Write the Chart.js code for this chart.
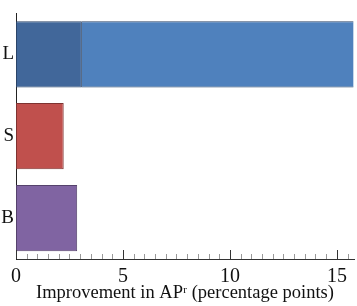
<!DOCTYPE html>
<html>
<head>
<meta charset="utf-8">
<script src="https://cdn.jsdelivr.net/npm/chart.js@4/dist/chart.umd.min.js"></script>
<style>
  html, body { margin: 0; padding: 0; background: #fff; }
  #wrap { width: 357px; height: 306px; position: relative; }
</style>
</head>
<body>
<div id="wrap"><canvas id="chart"></canvas></div>
<script>
// Data
const categories = ["L", "S", "B"];
const baseValues = [3.08, 2.23, 2.86];   // first segment of each bar
const extraValues = [12.7, null, null];  // stacked extension on L
const xTickLabels = [0, 5, 10, 15];

const baseColors = ["#41679a", "#c0504d", "#8064a2"];
const baseBorders = ["#2b4468", "#7e3331", "#55426c"];

// draws inward tick marks on the x axis (minor every 0.5, major every 5)
const inwardTicks = {
  id: "inwardTicks",
  afterDraw(chart) {
    const ctx = chart.ctx;
    const xs = chart.scales.x;
    const bottom = chart.chartArea.bottom;
    ctx.save();
    ctx.lineWidth = 1;
    xs.ticks.forEach((t) => {
      const px = Math.round(xs.getPixelForValue(t.value)) + 0.5;
      const major = xTickLabels.includes(t.value);
      ctx.strokeStyle = major ? "#333" : "#999";
      ctx.beginPath();
      ctx.moveTo(px, bottom);
      ctx.lineTo(px, bottom - (major ? 9 : 5));
      ctx.stroke();
    });
    ctx.restore();
  },
};

new Chart(document.getElementById("chart"), {
  type: "bar",
  data: {
    labels: categories,
    datasets: [
      {
        data: baseValues,
        backgroundColor: baseColors,
        borderColor: baseBorders,
        borderWidth: 1,
        borderSkipped: false,
      },
      {
        data: extraValues,
        backgroundColor: "#4f81bd",
        borderColor: "#2b4468",
        borderWidth: { top: 1, bottom: 1, left: 0, right: 0 },
        borderSkipped: false,
      },
    ],
  },
  plugins: [inwardTicks],
  options: {
    indexAxis: "y",
    responsive: true,
    maintainAspectRatio: false,
    animation: false,
    layout: { padding: { top: 3, right: 3, left: 0, bottom: 0 } },
    datasets: {
      bar: { barPercentage: 0.81, categoryPercentage: 1 },
    },
    plugins: {
      legend: { display: false },
      tooltip: { enabled: false },
    },
    scales: {
      x: {
        stacked: true,
        min: 0,
        max: 15.8,
        grid: { display: false, drawTicks: false },
        border: { display: true, color: "#333", width: 1 },
        ticks: {
          stepSize: 0.5,
          includeBounds: false,
          autoSkip: false,
          maxRotation: 0,
          padding: 6,
          color: "#111",
          font: { family: "Liberation Serif", size: 20 },
          callback: (v) => (xTickLabels.includes(v) ? String(v) : ""),
        },
        title: {
          display: true,
          text: "Improvement in APʳ (percentage points)",
          color: "#111",
          font: { family: "Liberation Serif", size: 18.5 },
          padding: { top: 0, bottom: 2 },
        },
        afterFit: (scale) => {
          scale.height = 47;
        },
      },
      y: {
        stacked: true,
        grid: { display: false, drawTicks: false },
        border: { display: true, color: "#222", width: 1 },
        ticks: {
          padding: 2,
          color: "#111",
          font: { family: "Liberation Serif", size: 19 },
        },
        afterFit: (scale) => {
          scale.width = 16;
        },
      },
    },
  },
});
</script>
</body>
</html>
